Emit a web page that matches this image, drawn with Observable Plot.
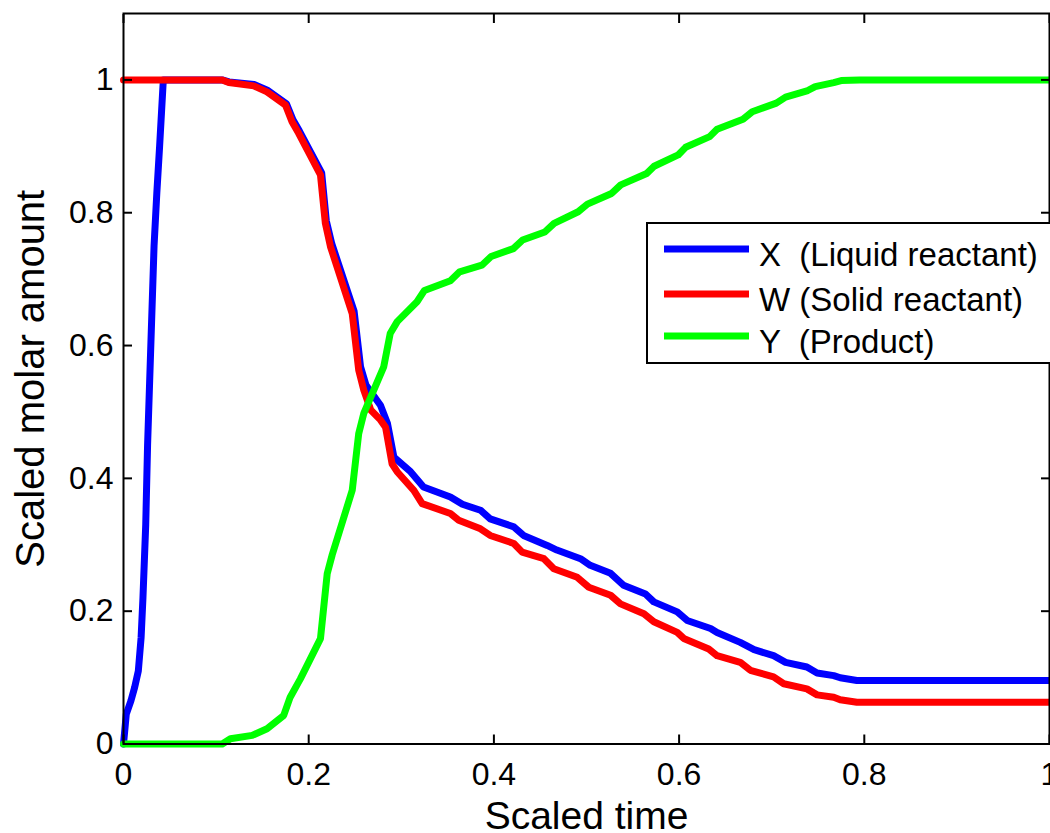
<!DOCTYPE html>
<html>
<head>
<meta charset="utf-8">
<script src="https://cdn.jsdelivr.net/npm/d3@7"></script>
<script src="https://cdn.jsdelivr.net/npm/@observablehq/plot@0.6"></script>
<style>
  html, body { margin: 0; padding: 0; background: #fff; }
  #wrap { position: relative; width: 1050px; height: 833px; overflow: hidden; font-family: "Liberation Sans", Arial, sans-serif; }
  #legend { position: absolute; left: 0; top: 0; pointer-events: none; }
</style>
</head>
<body>
<div id="wrap"></div>
<script>
// ---- data ----
const seriesNames = ["X  (Liquid reactant)", "W (Solid reactant)", "Y  (Product)"];
const seriesColors = ["#0000ff", "#ff0000", "#00ff00"];

const timeX = [0,0.002,0.003,0.008,0.012,0.016,0.019,0.021,0.024,0.026,0.033,0.036,0.039,0.043,0.1066,0.114,0.141,0.156,0.176,0.183,0.190,0.214,0.219,0.225,0.249,0.256,0.262,0.2775,0.285,0.292,0.31,0.324,0.353,0.366,0.3855,0.396,0.4215,0.432,0.4575,0.468,0.4935,0.504,0.526,0.540,0.5637,0.5727,0.598,0.6087,0.634,0.641,0.666,0.681,0.702,0.715,0.738,0.749,0.767,0.774,0.792,1.0];
const valX  = [0,0.03,0.045,0.065,0.085,0.11,0.16,0.22,0.33,0.45,0.75,0.83,0.90,1.0,1.0,0.997,0.993,0.984,0.964,0.940,0.923,0.860,0.788,0.753,0.652,0.568,0.540,0.510,0.483,0.432,0.41,0.387,0.372,0.361,0.352,0.339,0.327,0.314,0.299,0.292,0.279,0.269,0.257,0.239,0.226,0.214,0.199,0.186,0.174,0.168,0.153,0.142,0.133,0.123,0.116,0.107,0.103,0.0997,0.0957,0.0957];

const timeW = [0,0.1066,0.1137,0.1407,0.155,0.175,0.182,0.189,0.2127,0.218,0.2235,0.247,0.254,0.2595,0.267,0.2775,0.283,0.290,0.2955,0.3135,0.3225,0.353,0.362,0.3855,0.396,0.4215,0.4305,0.454,0.4647,0.49,0.5025,0.526,0.5367,0.562,0.5727,0.598,0.605,0.632,0.641,0.666,0.677,0.702,0.713,0.738,0.749,0.767,0.774,0.792,1.0];
const valW  = [1,1,0.996,0.991,0.982,0.962,0.937,0.920,0.857,0.784,0.749,0.648,0.563,0.533,0.503,0.488,0.477,0.422,0.410,0.382,0.362,0.347,0.337,0.324,0.314,0.302,0.289,0.279,0.264,0.251,0.236,0.224,0.211,0.196,0.184,0.168,0.159,0.143,0.133,0.123,0.111,0.101,0.0907,0.083,0.074,0.0705,0.0666,0.063,0.063];

const timeY = [0,0.1066,0.1155,0.139,0.155,0.173,0.180,0.191,0.2127,0.22,0.2254,0.247,0.254,0.2595,0.281,0.288,0.2956,0.317,0.325,0.353,0.363,0.387,0.397,0.421,0.431,0.455,0.465,0.491,0.501,0.527,0.537,0.565,0.573,0.599,0.607,0.633,0.641,0.669,0.679,0.705,0.715,0.739,0.747,0.767,0.775,0.795,1.0];
const valY  = [0,0,0.008,0.013,0.023,0.043,0.0705,0.098,0.1586,0.2565,0.285,0.382,0.4675,0.4977,0.568,0.618,0.636,0.666,0.683,0.6976,0.711,0.721,0.734,0.746,0.759,0.771,0.784,0.8015,0.813,0.829,0.842,0.859,0.870,0.887,0.8985,0.9146,0.9257,0.9407,0.952,0.965,0.974,0.984,0.990,0.996,0.999,1.0,1.0];

const xTicks = [0, 0.2, 0.4, 0.6, 0.8, 1];
const xTickLabels = ["0", "0.2", "0.4", "0.6", "0.8", "1"];
const yTicks = [0, 0.2, 0.4, 0.6, 0.8, 1];
const yTickLabels = ["0", "0.2", "0.4", "0.6", "0.8", "1"];
const xLabel = "Scaled time";
const yLabel = "Scaled molar amount";

// ---- build ----
const toRows = (ts, vs) => ts.map((t, i) => ({t, v: vs[i]}));
const rowsX = toRows(timeX, valX);
const rowsW = toRows(timeW, valW);
const rowsY = toRows(timeY, valY);

const fmtX = d => xTickLabels[xTicks.indexOf(d)];
const fmtY = d => yTickLabels[yTicks.indexOf(d)];
const blank = () => "";

const mT = 13, mB = 89.5, mL = 123, mR = 1;

const chart = Plot.plot({
  width: 1050,
  height: 833,
  marginTop: mT, marginBottom: mB, marginLeft: mL, marginRight: mR,
  x: {domain: [0, 1]},
  y: {domain: [0, 1.1]},
  style: {fontFamily: "'Liberation Sans', Arial, sans-serif", background: "#fff", color: "#000", overflow: "visible"},
  marks: [
    Plot.line(rowsX, {x: "t", y: "v", stroke: seriesColors[0], strokeWidth: 7, strokeLinejoin: "round"}),
    Plot.line(rowsW, {x: "t", y: "v", stroke: seriesColors[1], strokeWidth: 7, strokeLinejoin: "round"}),
    Plot.line(rowsY, {x: "t", y: "v", stroke: seriesColors[2], strokeWidth: 7, strokeLinejoin: "round"}),
    Plot.frame({stroke: "#000", strokeWidth: 2}),
    // inward ticks on all four sides
    Plot.axisX({anchor: "bottom", ticks: xTicks, tickSize: -9, tickPadding: 0, tickFormat: blank, strokeWidth: 2, label: null}),
    Plot.axisX({anchor: "top", ticks: xTicks, tickSize: -9, tickPadding: 0, tickFormat: blank, strokeWidth: 2, label: null}),
    Plot.axisY({anchor: "left", ticks: yTicks, tickSize: -9, tickPadding: 0, tickFormat: blank, strokeWidth: 2, label: null}),
    Plot.axisY({anchor: "right", ticks: yTicks, tickSize: -9, tickPadding: 0, tickFormat: blank, strokeWidth: 2, label: null}),
    // tick labels
    Plot.axisX({anchor: "bottom", ticks: xTicks, tickSize: 0, tickPadding: 18, tickFormat: fmtX, fontSize: 32, label: null}),
    Plot.axisY({anchor: "left", ticks: yTicks, tickSize: 0, tickPadding: 10, tickFormat: fmtY, fontSize: 32, label: null}),
    // axis titles
    Plot.text([xLabel], {frameAnchor: "bottom", dy: 57, textAnchor: "middle", lineAnchor: "top", fontSize: 39, fill: "#000"}),
    Plot.text([yLabel], {frameAnchor: "left", dx: -108, rotate: -90, textAnchor: "middle", lineAnchor: "top", fontSize: 40, fill: "#000"})
  ]
});

const wrap = document.getElementById("wrap");
wrap.appendChild(chart);

// ---- legend (overlay) ----
const lg = d3.select(wrap).append("svg")
  .attr("id", "legend")
  .attr("width", 1050).attr("height", 833);
const box = {x: 647, y: 223, w: 430, h: 140};
lg.append("rect")
  .attr("x", box.x).attr("y", box.y).attr("width", box.w).attr("height", box.h)
  .attr("fill", "#fff").attr("stroke", "#000").attr("stroke-width", 2);
const lineYs = [249, 294, 336];
seriesNames.forEach((name, i) => {
  lg.append("line")
    .attr("x1", 664).attr("x2", 749)
    .attr("y1", lineYs[i]).attr("y2", lineYs[i])
    .attr("stroke", seriesColors[i]).attr("stroke-width", 7);
  lg.append("text")
    .attr("x", 759).attr("y", lineYs[i] + 17)
    .attr("font-size", 33)
    .attr("font-family", "'Liberation Sans', Arial, sans-serif")
    .style("white-space", "pre")
    .attr("xml:space", "preserve")
    .text(name);
});
</script>
</body>
</html>
